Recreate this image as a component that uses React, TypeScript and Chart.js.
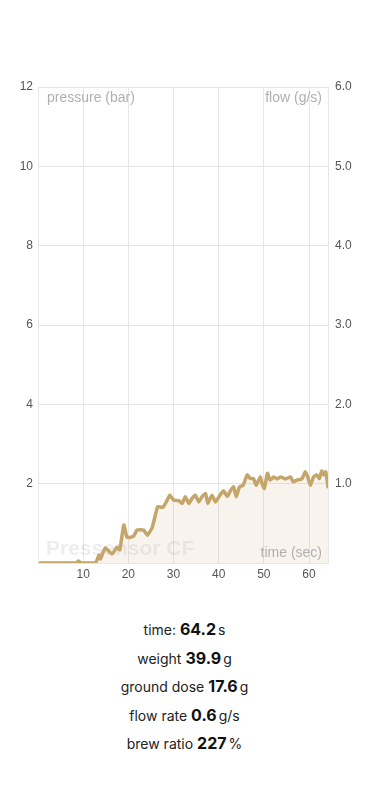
import React, { useEffect, useRef } from "react";
import { Chart, registerables } from "chart.js";

Chart.register(...registerables);

const timeSec: number[] = [
  0.5, 8.5, 8.9, 9.5, 12.7, 13.5, 13.8, 14.9, 16.4, 17.5, 18.1, 19.0, 19.7, 20.5, 21.2, 21.9,
  23.4, 24.2, 25.3, 26.5, 27.6, 28.3, 29.2, 30.0, 31.2, 31.9, 32.6, 33.4, 34.1, 34.8, 35.6,
  36.3, 37.1, 37.6, 38.5, 39.3, 40.4, 41.1, 41.9, 42.6, 43.3, 43.9, 44.6, 45.4, 46.3, 47.0,
  47.7, 48.3, 49.2, 49.6, 50.1, 50.8, 51.4, 52.2, 52.9, 53.7, 54.8, 55.9, 56.5, 57.3, 58.4,
  59.2, 59.7, 60.3, 61.0, 61.7, 62.3, 62.8, 63.3, 63.7, 64.2,
];
const pressureBar: number[] = [
  0, 0, 0.05, 0, 0, 0.2, 0.1, 0.38, 0.23, 0.4, 0.33, 0.96, 0.65, 0.65, 0.68, 0.83,
  0.83, 0.7, 0.9, 1.42, 1.4, 1.52, 1.71, 1.59, 1.57, 1.5, 1.67, 1.5, 1.63, 1.71, 1.54,
  1.67, 1.75, 1.5, 1.71, 1.54, 1.73, 1.82, 1.68, 1.82, 1.92, 1.67, 1.92, 1.96, 2.22, 2.13,
  2.13, 1.96, 2.17, 2.0, 1.88, 2.26, 2.09, 2.17, 2.12, 2.17, 2.12, 2.17, 2.05, 2.09, 2.12,
  2.3, 2.17, 1.96, 2.17, 2.22, 2.13, 2.32, 2.22, 2.3, 1.92,
];
const xTicks: number[] = [10, 20, 30, 40, 50, 60];
const xMax = 64.2;
const pressureMax = 12;
const flowMax = 6;

const stats: { label: string; value: string; unit: string }[] = [
  { label: "time:", value: "64.2", unit: "s" },
  { label: "weight", value: "39.9", unit: "g" },
  { label: "ground dose", value: "17.6", unit: "g" },
  { label: "flow rate", value: "0.6", unit: "g/s" },
  { label: "brew ratio", value: "227", unit: "%" },
];

const FONT = "'Liberation Sans', Arial, sans-serif";

const overlayText = {
  id: "overlayText",
  beforeDatasetsDraw(chart: any) {
    const { ctx, chartArea } = chart;
    ctx.save();
    ctx.font = `bold 21px ${FONT}`;
    ctx.fillStyle = "rgba(0,0,0,0.07)";
    ctx.textAlign = "left";
    ctx.textBaseline = "alphabetic";
    ctx.fillText("Pressensor CF", chartArea.left + 8, chartArea.bottom - 8);
    ctx.restore();
  },
  afterDatasetsDraw(chart: any) {
    const { ctx, chartArea } = chart;
    ctx.save();
    ctx.font = `14px ${FONT}`;
    ctx.fillStyle = "#b0b0b0";
    ctx.textBaseline = "middle";
    ctx.textAlign = "left";
    ctx.fillText("pressure (bar)", chartArea.left + 9, chartArea.top + 11);
    ctx.textAlign = "right";
    ctx.fillText("flow (g/s)", chartArea.right - 6, chartArea.top + 11);
    ctx.fillText("time (sec)", chartArea.right - 6, chartArea.bottom - 10);
    ctx.restore();
  },
};

function PressureChart() {
  const ref = useRef<HTMLCanvasElement | null>(null);
  useEffect(() => {
    if (!ref.current) return;
    const points = timeSec.map((t, i) => ({ x: t, y: pressureBar[i] }));
    const gridColor = "#e6e6e6";
    const chart = new Chart(ref.current, {
      type: "line",
      data: {
        datasets: [
          {
            data: points,
            borderColor: "#c4a66b",
            backgroundColor: "rgba(196,166,108,0.12)",
            borderWidth: 3.5,
            borderJoinStyle: "round",
            borderCapStyle: "round",
            fill: "origin",
            pointRadius: 0,
            tension: 0.15,
            yAxisID: "y",
          },
        ],
      },
      options: {
        animation: false,
        responsive: false,
        maintainAspectRatio: false,
        layout: { padding: { top: 79, left: 0, right: 0, bottom: 0 } },
        plugins: { legend: { display: false }, tooltip: { enabled: false } },
        scales: {
          x: {
            type: "linear",
            min: 0,
            max: xMax,
            afterBuildTicks: (scale: any) => {
              scale.ticks = xTicks.map((v) => ({ value: v }));
            },
            afterFit: (scale: any) => {
              scale.height = 20;
            },
            grid: { color: gridColor, drawTicks: false },
            border: { color: gridColor },
            ticks: {
              color: "#555",
              font: { family: FONT, size: 12 },
              padding: 4,
              maxRotation: 0,
            },
          },
          y: {
            position: "left",
            min: 0,
            max: pressureMax,
            afterFit: (scale: any) => {
              scale.width = 30;
            },
            grid: { color: gridColor, drawTicks: false },
            border: { color: gridColor },
            ticks: {
              stepSize: 2,
              color: "#555",
              font: { family: FONT, size: 12 },
              padding: 5,
              callback: (v: any) => (v === 0 ? "" : String(v)),
            },
          },
          y1: {
            position: "right",
            min: 0,
            max: flowMax,
            afterFit: (scale: any) => {
              scale.width = 33;
            },
            grid: { drawOnChartArea: false, drawTicks: false },
            border: { color: gridColor },
            ticks: {
              stepSize: 1,
              color: "#555",
              font: { family: FONT, size: 12 },
              padding: 7,
              callback: (v: any) => (v === 0 ? "" : Number(v).toFixed(1)),
            },
          },
        },
      },
      plugins: [overlayText],
    });
    return () => chart.destroy();
  }, []);
  return <canvas ref={ref} width={353} height={575} style={{ display: "block", width: 353, height: 575 }} />;
}

export default function App() {
  return (
    <div style={{ width: 353, fontFamily: "Inter, 'Liberation Sans', sans-serif", color: "#222" }}>
      <PressureChart />
      <div style={{ marginTop: 32 }}>
        {stats.map((s) => (
          <div
            key={s.label}
            style={{ height: 28.6, lineHeight: "28.6px", textAlign: "center", fontSize: 14 }}
          >
            <span>{s.label} </span>
            <span style={{ fontWeight: 700, fontSize: 16, color: "#111" }}>{s.value}</span>
            <span style={{ marginLeft: 2 }}>{s.unit}</span>
          </div>
        ))}
      </div>
    </div>
  );
}
